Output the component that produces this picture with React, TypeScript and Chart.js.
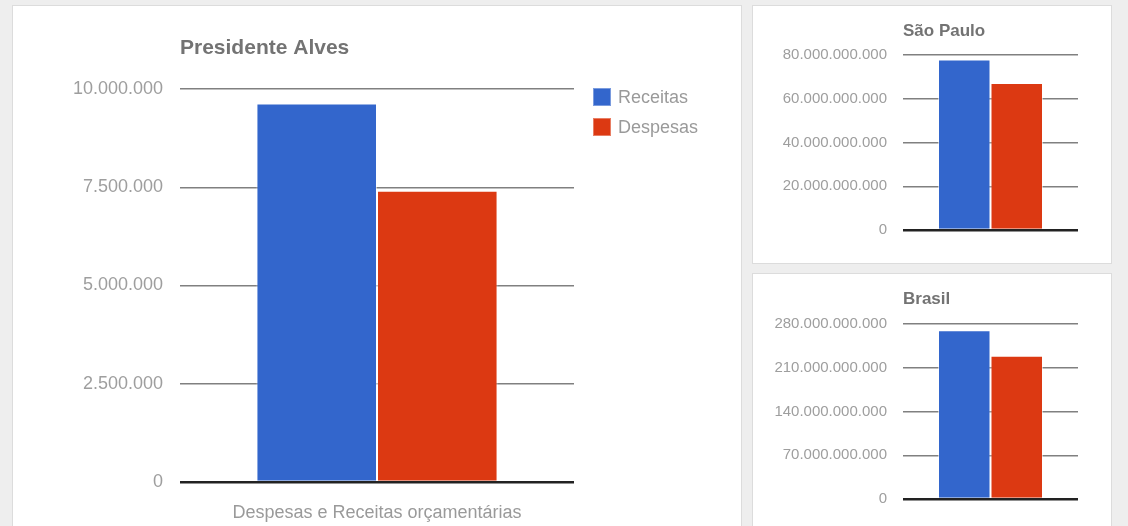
import React, { useEffect, useRef } from "react";
import { Chart, registerables } from "chart.js";

Chart.register(...registerables);

// ---- data ----
const categories = ["Despesas e Receitas orçamentárias"];
const seriesNames = ["Receitas", "Despesas"];
const seriesColors = ["#3366cc", "#dc3912"];

const presidenteAlvesReceitas = [9630000];
const presidenteAlvesDespesas = [7410000];
const presidenteAlvesTicks = ["0", "2.500.000", "5.000.000", "7.500.000", "10.000.000"];

const saoPauloReceitas = [78000000000];
const saoPauloDespesas = [67200000000];
const saoPauloTicks = ["0", "20.000.000.000", "40.000.000.000", "60.000.000.000", "80.000.000.000"];

const brasilReceitas = [269900000000];
const brasilDespesas = [229300000000];
const brasilTicks = ["0", "70.000.000.000", "140.000.000.000", "210.000.000.000", "280.000.000.000"];

const FONT = '"Liberation Sans", Arial, sans-serif';

type ChartSpec = {
  title: string;
  receitas: number[];
  despesas: number[];
  ticks: string[];
  max: number;
  step: number;
  width: number;
  height: number;
  yWidth: number;
  padRight: number;
  padTop: number;
  xHeight: number;
  titleY: number;
  titleSize: number;
  tickSize: number;
  tickPad: number;
  catPct: number;
  showX: boolean;
  xPad: number;
};

const titlePlugin = {
  id: "leftTitle",
  afterDraw(chart: any, _args: any, opts: any) {
    const ctx = chart.ctx;
    ctx.save();
    ctx.font = `bold ${opts.size}px ${FONT}`;
    ctx.fillStyle = "#737373";
    ctx.textAlign = "left";
    ctx.textBaseline = "middle";
    ctx.fillText(opts.text, chart.chartArea.left, opts.y);
    ctx.restore();
  },
};

function BarChart({ spec, style }: { spec: ChartSpec; style: React.CSSProperties }) {
  const ref = useRef<HTMLCanvasElement>(null);
  useEffect(() => {
    if (!ref.current) return;
    const chart = new Chart(ref.current, {
      type: "bar",
      data: {
        labels: categories,
        datasets: [
          {
            label: seriesNames[0],
            data: spec.receitas,
            backgroundColor: seriesColors[0],
            borderColor: "rgba(255,255,255,0.55)",
            borderWidth: 1,
            borderSkipped: "bottom",
          },
          {
            label: seriesNames[1],
            data: spec.despesas,
            backgroundColor: seriesColors[1],
            borderColor: "rgba(255,255,255,0.55)",
            borderWidth: 1,
            borderSkipped: "bottom",
          },
        ],
      },
      options: {
        responsive: false,
        animation: false,
        devicePixelRatio: 1,
        layout: { padding: { left: 0, right: spec.padRight, top: spec.padTop, bottom: 0 } },
        datasets: { bar: { barPercentage: 1, categoryPercentage: spec.catPct } },
        plugins: {
          legend: { display: false },
          title: { display: false },
          tooltip: { enabled: false },
          leftTitle: { text: spec.title, y: spec.titleY, size: spec.titleSize },
        } as any,
        scales: {
          x: {
            grid: { display: false },
            border: { display: false },
            ticks: {
              display: spec.showX,
              color: "#9a9a9a",
              font: { family: FONT, size: 18 },
              padding: spec.xPad,
            },
            afterFit(scale: any) {
              scale.height = spec.xHeight;
            },
          },
          y: {
            min: 0,
            max: spec.max,
            border: { display: false },
            grid: {
              drawTicks: false,
              color: (c: any) => (c.tick && c.tick.value === 0 ? "#222222" : "#808080"),
              lineWidth: (c: any) => (c.tick && c.tick.value === 0 ? 2.5 : 1.5),
            },
            ticks: {
              stepSize: spec.step,
              padding: spec.tickPad,
              color: "#9e9e9e",
              font: { family: FONT, size: spec.tickSize },
              callback: (_v: any, i: number) => spec.ticks[i],
            },
            afterFit(scale: any) {
              scale.width = spec.yWidth;
            },
          },
        },
      },
      plugins: [titlePlugin],
    });
    return () => chart.destroy();
  }, []);
  return <canvas ref={ref} width={spec.width} height={spec.height} style={{ position: "absolute", ...style }} />;
}

const mainSpec: ChartSpec = {
  title: "Presidente Alves",
  receitas: presidenteAlvesReceitas,
  despesas: presidenteAlvesDespesas,
  ticks: presidenteAlvesTicks,
  max: 10000000,
  step: 2500000,
  width: 726,
  height: 520,
  yWidth: 167,
  padRight: 165,
  padTop: 83,
  xHeight: 44,
  titleY: 42,
  titleSize: 21,
  tickSize: 18,
  tickPad: 17,
  catPct: 0.612,
  showX: true,
  xPad: 12,
};

const spSpec: ChartSpec = {
  title: "São Paulo",
  receitas: saoPauloReceitas,
  despesas: saoPauloDespesas,
  ticks: saoPauloTicks,
  max: 80000000000,
  step: 20000000000,
  width: 358,
  height: 256,
  yWidth: 150,
  padRight: 33,
  padTop: 49,
  xHeight: 32,
  titleY: 25,
  titleSize: 17,
  tickSize: 15,
  tickPad: 16,
  catPct: 0.6,
  showX: false,
  xPad: 0,
};

const brSpec: ChartSpec = {
  title: "Brasil",
  receitas: brasilReceitas,
  despesas: brasilDespesas,
  ticks: brasilTicks,
  max: 280000000000,
  step: 70000000000,
  width: 358,
  height: 251,
  yWidth: 150,
  padRight: 33,
  padTop: 49,
  xHeight: 27,
  titleY: 24,
  titleSize: 17,
  tickSize: 15,
  tickPad: 16,
  catPct: 0.6,
  showX: false,
  xPad: 0,
};

const panel = (left: number, top: number, width: number, height: number): React.CSSProperties => ({
  position: "absolute",
  left,
  top,
  width,
  height,
  boxSizing: "border-box",
  border: "1px solid #dcdcdc",
  background: "#ffffff",
});

export default function App() {
  return (
    <div
      style={{
        position: "fixed",
        left: 0,
        top: 0,
        width: 1128,
        height: 526,
        overflow: "hidden",
        background: "#eeeeee",
        fontFamily: FONT,
      }}
    >
      <div style={panel(12, 5, 730, 600)} />
      <div style={panel(752, 5, 360, 259)} />
      <div style={panel(752, 273, 360, 300)} />
      <BarChart spec={mainSpec} style={{ left: 13, top: 6 }} />
      <BarChart spec={spSpec} style={{ left: 753, top: 6 }} />
      <BarChart spec={brSpec} style={{ left: 753, top: 275 }} />
      {seriesNames.map((name, i) => (
        <div
          key={name}
          style={{ position: "absolute", left: 593, top: 88 + i * 30, height: 18, display: "flex", alignItems: "center" }}
        >
          <div style={{ width: 18, height: 18, background: seriesColors[i], boxSizing: "border-box", border: "1px solid rgba(255,255,255,0.35)" }} />
          <span style={{ marginLeft: 7, fontSize: 18, color: "#9a9a9a", lineHeight: "18px" }}>{name}</span>
        </div>
      ))}
    </div>
  );
}
